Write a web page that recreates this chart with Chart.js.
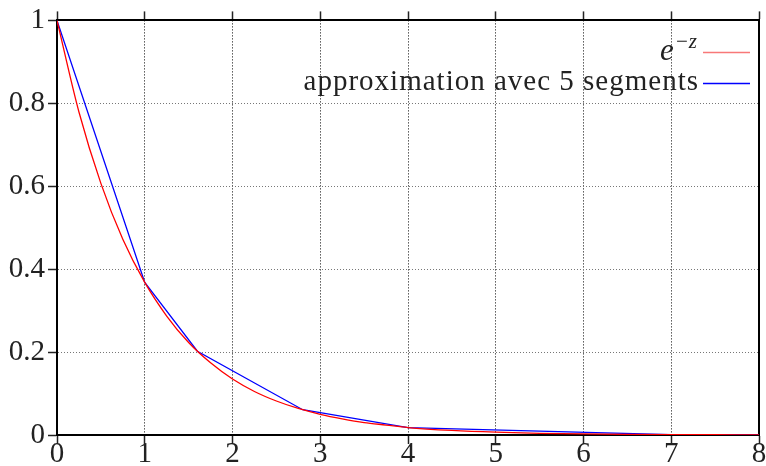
<!DOCTYPE html>
<html>
<head>
<meta charset="utf-8">
<script src="https://cdn.jsdelivr.net/npm/chart.js@4.4.1/dist/chart.umd.min.js"></script>
<style>
  html, body { margin: 0; padding: 0; background: #fff; }
  #wrap { width: 766px; height: 466px; }
</style>
</head>
<body>
<div id="wrap"><canvas id="expo" width="766" height="466"></canvas></div>
<script>
// e^{-z} sampled every 0.25 up to 4, then every 0.5
const zCurve = [0, 0.25, 0.5, 0.75, 1, 1.25, 1.5, 1.75, 2, 2.25, 2.5, 2.75, 3, 3.25, 3.5, 3.75, 4,
                4.5, 5, 5.5, 6, 6.5, 7, 7.5, 8];
const expValues = [1, 0.779, 0.607, 0.472, 0.368, 0.287, 0.223, 0.174, 0.135, 0.105, 0.082, 0.064, 0.050,
                   0.039, 0.030, 0.024, 0.018, 0.011, 0.0067, 0.0041, 0.0025, 0.0015, 0.0009, 0.0006, 0.0003];

// piecewise linear approximation knots
const zKnots = [0, 1, 1.6, 2.8, 4, 7, 8];
const approxValues = [1, 0.368, 0.202, 0.061, 0.018, 0.0009, 0.0003];

const xTicks = [0, 1, 2, 3, 4, 5, 6, 7, 8];
const yTicks = [0, 0.2, 0.4, 0.6, 0.8, 1];

const legendLabels = ['approximation avec 5 segments'];

const serif = '"Liberation Serif", "DejaVu Serif", serif';

function toPoints(xs, ys) {
    return xs.map((x, i) => ({ x: x, y: ys[i] }));
}

// legend drawn in the top right corner, text right-aligned before the line sample
const cornerLegend = {
    id: 'cornerLegend',
    afterDraw(chart) {
        const ctx = chart.ctx;
        const area = chart.chartArea;
        const lineEnd = area.right - 9;
        const lineStart = lineEnd - 47;
        ctx.save();
        ctx.fillStyle = '#222';
        ctx.textBaseline = 'alphabetic';
        ctx.textAlign = 'right';
        ctx.lineWidth = 1.5;

        // e^{-z}
        let y = area.top + 32;
        const sup = '\u2212z';
        ctx.font = 'italic 21px ' + serif;
        const supW = ctx.measureText(sup).width;
        ctx.fillText(sup, lineStart - 6, y - 4);
        ctx.font = 'italic 31px ' + serif;
        ctx.fillText('e', lineStart - 6 - supW - 1, y + 8);
        ctx.strokeStyle = '#f87878';
        ctx.beginPath();
        ctx.moveTo(lineStart, y);
        ctx.lineTo(lineEnd, y);
        ctx.stroke();

        // approximation
        y = area.top + 63;
        ctx.font = '29px ' + serif;
        ctx.letterSpacing = '1px';
        ctx.fillText(legendLabels[0], lineStart - 4, y + 7);
        ctx.letterSpacing = '0px';
        ctx.strokeStyle = '#0000ff';
        ctx.beginPath();
        ctx.moveTo(lineStart, y);
        ctx.lineTo(lineEnd, y);
        ctx.stroke();
        ctx.restore();
    }
};

const ctx = document.getElementById('expo').getContext('2d');
new Chart(ctx, {
    type: 'scatter',
    data: {
        datasets: [
            {
                label: 'e^{-z}',
                data: toPoints(zCurve, expValues),
                showLine: true,
                borderColor: '#ff0000',
                borderWidth: 1.3,
                pointRadius: 0,
                cubicInterpolationMode: 'monotone'
            },
            {
                label: legendLabels[0],
                data: toPoints(zKnots, approxValues),
                showLine: true,
                borderColor: '#0000ff',
                borderWidth: 1.3,
                pointRadius: 0,
                tension: 0
            }
        ]
    },
    options: {
        responsive: false,
        animation: false,
        layout: { padding: { top: 15, right: 7, left: 0, bottom: 0 } },
        plugins: {
            legend: { display: false },
            tooltip: { enabled: false }
        },
        scales: {
            x: {
                type: 'linear',
                min: 0,
                max: 8,
                afterFit: (scale) => { scale.height = 31; },
                afterBuildTicks: (scale) => { scale.ticks = xTicks.map(v => ({ value: v })); },
                ticks: {
                    color: '#222',
                    font: { family: serif, size: 29 },
                    padding: -7,
                    maxRotation: 0,
                    autoSkip: false,
                    callback: (v) => String(v)
                },
                grid: {
                    color: '#000',
                    lineWidth: 1,
                    tickLength: 9,
                    tickColor: '#222',
                    tickWidth: 1.5
                },
                border: { display: true, color: '#000', width: 2, dash: [1, 2] }
            },
            x2: {
                type: 'linear',
                position: 'top',
                min: 0,
                max: 8,
                afterFit: (scale) => { scale.height = 0; },
                afterBuildTicks: (scale) => { scale.ticks = xTicks.map(v => ({ value: v })); },
                ticks: { display: false },
                grid: {
                    drawOnChartArea: false,
                    tickLength: 9,
                    tickColor: '#222',
                    tickWidth: 1.5
                },
                border: { display: true, color: '#000', width: 2 }
            },
            y: {
                type: 'linear',
                min: 0,
                max: 1,
                afterFit: (scale) => { scale.width = 57; },
                afterBuildTicks: (scale) => { scale.ticks = yTicks.map(v => ({ value: v })); },
                ticks: {
                    color: '#222',
                    font: { family: serif, size: 29 },
                    padding: 3,
                    callback: (v) => String(v)
                },
                grid: {
                    color: '#777',
                    lineWidth: 1,
                    tickLength: 9,
                    tickColor: '#222',
                    tickWidth: 1.5
                },
                border: { display: true, color: '#000', width: 2, dash: [1, 2] }
            },
            y2: {
                type: 'linear',
                position: 'right',
                min: 0,
                max: 1,
                afterFit: (scale) => { scale.width = 0; },
                ticks: { display: false },
                grid: { display: false },
                border: { display: true, color: '#000', width: 2 }
            }
        }
    },
    plugins: [cornerLegend]
});
</script>
</body>
</html>
